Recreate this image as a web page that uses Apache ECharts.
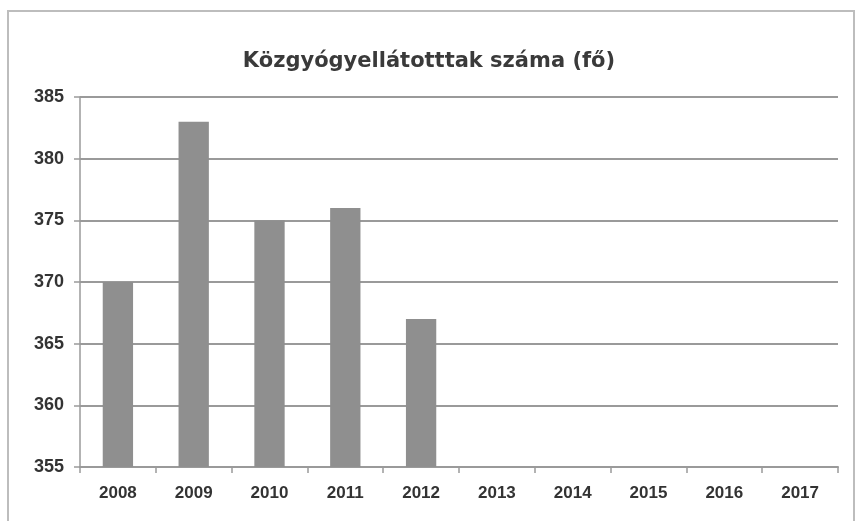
<!DOCTYPE html>
<html>
<head>
<meta charset="utf-8">
<script src="https://cdn.jsdelivr.net/npm/echarts@6/dist/echarts.min.js"></script>
<style>
  html, body { margin: 0; padding: 0; background: #fff; }
  #chart { width: 858px; height: 521px; }
</style>
</head>
<body>
<div id="chart"></div>
<script>
const years = ['2008', '2009', '2010', '2011', '2012', '2013', '2014', '2015', '2016', '2017'];
const counts = [370, 383, 375, 376, 367, null, null, null, null, null];
const yTicks = { min: 355, max: 385, step: 5 };

const chart = echarts.init(document.getElementById('chart'));

chart.setOption({
  backgroundColor: '#fff',
  animation: false,
  title: {
    text: 'Közgyógyellátotttak száma (fő)',
    left: 'center',
    top: 46,
    textStyle: { fontFamily: 'DejaVu Sans', fontWeight: 'bold', fontSize: 21, color: '#3a3a3a' }
  },
  grid: { left: 80, right: 20, top: 97, bottom: 54 },
  xAxis: {
    type: 'category',
    data: years,
    axisLine: { lineStyle: { color: '#9a9a9a', width: 2 } },
    axisTick: { show: true, length: 6, lineStyle: { color: '#9a9a9a', width: 1.5 } },
    axisLabel: { margin: 18, color: '#333', fontFamily: 'Liberation Sans', fontWeight: 'bold', fontSize: 17 }
  },
  yAxis: {
    type: 'value',
    min: yTicks.min,
    max: yTicks.max,
    interval: yTicks.step,
    axisLine: { show: true, lineStyle: { color: '#9a9a9a', width: 1.5 } },
    axisTick: { show: true, length: 6, lineStyle: { color: '#9a9a9a', width: 1.5 } },
    splitLine: { lineStyle: { color: '#9a9a9a', width: 2 } },
    axisLabel: { margin: 16, color: '#333', fontFamily: 'Liberation Sans', fontWeight: 'bold', fontSize: 18 }
  },
  series: [{
    type: 'bar',
    data: counts,
    barWidth: '40%',
    itemStyle: { color: '#8f8f8f' }
  }],
  graphic: [{
    type: 'rect',
    shape: { x: 8, y: 11, width: 846, height: 520 },
    style: { fill: 'none', stroke: '#bdbdbd', lineWidth: 2 }
  }]
});
</script>
</body>
</html>
